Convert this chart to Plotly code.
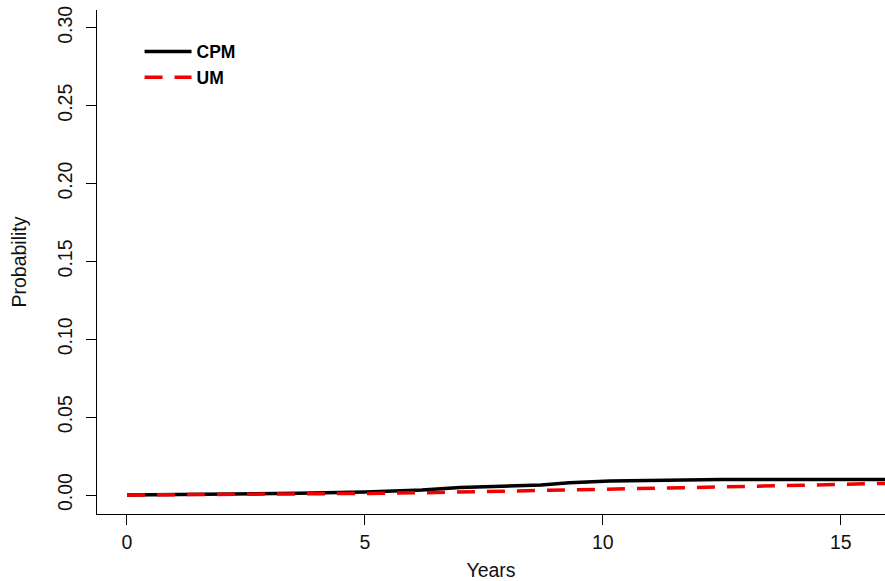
import plotly.graph_objects as go

# CPM step-like curve (years, probability)
cpm_years = [0, 2.0, 3.6, 5.0, 6.2, 7.0, 7.8, 8.7, 9.3, 10.15, 12.5, 16.5]
cpm_prob = [0, 0.0005, 0.0011, 0.0019, 0.0032, 0.0048, 0.0058, 0.0065, 0.0079, 0.0090, 0.0100, 0.0100]

# UM curve
um_years = [0, 2.0, 3.6, 5.0, 6.5, 7.8, 10.0, 11.8, 14.0, 16.5]
um_prob = [0, 0.0002, 0.0005, 0.0010, 0.0016, 0.0022, 0.0037, 0.0047, 0.0062, 0.0078]

x_ticks = [0, 5, 10, 15]
y_ticks = [0.00, 0.05, 0.10, 0.15, 0.20, 0.25, 0.30]
y_ticklabels = ["0.00", "0.05", "0.10", "0.15", "0.20", "0.25", "0.30"]

fig = go.Figure()
fig.add_trace(go.Scatter(x=cpm_years, y=cpm_prob, mode="lines", name="CPM",
                         line=dict(color="black", width=3.5)))
fig.add_trace(go.Scatter(x=um_years, y=um_prob, mode="lines", name="UM",
                         line=dict(color="#f00000", width=3.5, dash="18px,12px")))

font_family = "Liberation Sans, Arial, sans-serif"
fs = 19.5
fig.update_layout(
    width=885, height=581,
    margin=dict(l=97, r=0, t=10, b=67),
    plot_bgcolor="white", paper_bgcolor="white",
    font=dict(family=font_family, size=fs, color="#111"),
    showlegend=True,
    legend=dict(x=0.054, y=0.953, xanchor="left", yanchor="top",
                font=dict(family=font_family, size=17.5, color="black", weight="bold"),
                bgcolor="rgba(0,0,0,0)", tracegroupgap=0, itemwidth=47),
    xaxis=dict(range=[-0.63, 15.93], tickmode="array", tickvals=x_ticks,
               automargin=False, ticklabeloverflow="allow",
               showgrid=False, zeroline=False, showline=True, linecolor="black",
               linewidth=1.3, ticks="outside", ticklen=10, tickcolor="black",
               tickwidth=1.3, tickfont=dict(size=fs),
               title=dict(text="Years", standoff=13, font=dict(size=fs))),
    yaxis=dict(range=[-0.0122, 0.3114], tickmode="array", tickvals=y_ticks,
               ticktext=y_ticklabels, tickangle=-90, automargin=False,
               ticklabelstandoff=6, ticklabeloverflow="allow",
               showgrid=False, zeroline=False, showline=True, linecolor="black",
               linewidth=1.3, ticks="outside", ticklen=10, tickcolor="black",
               tickwidth=1.3, tickfont=dict(size=fs),
               title=dict(text="Probability", standoff=22, font=dict(size=fs))),
)

fig.write_html("out.html", config={"displayModeBar": False},
               post_script="document.body.style.margin='0';")
